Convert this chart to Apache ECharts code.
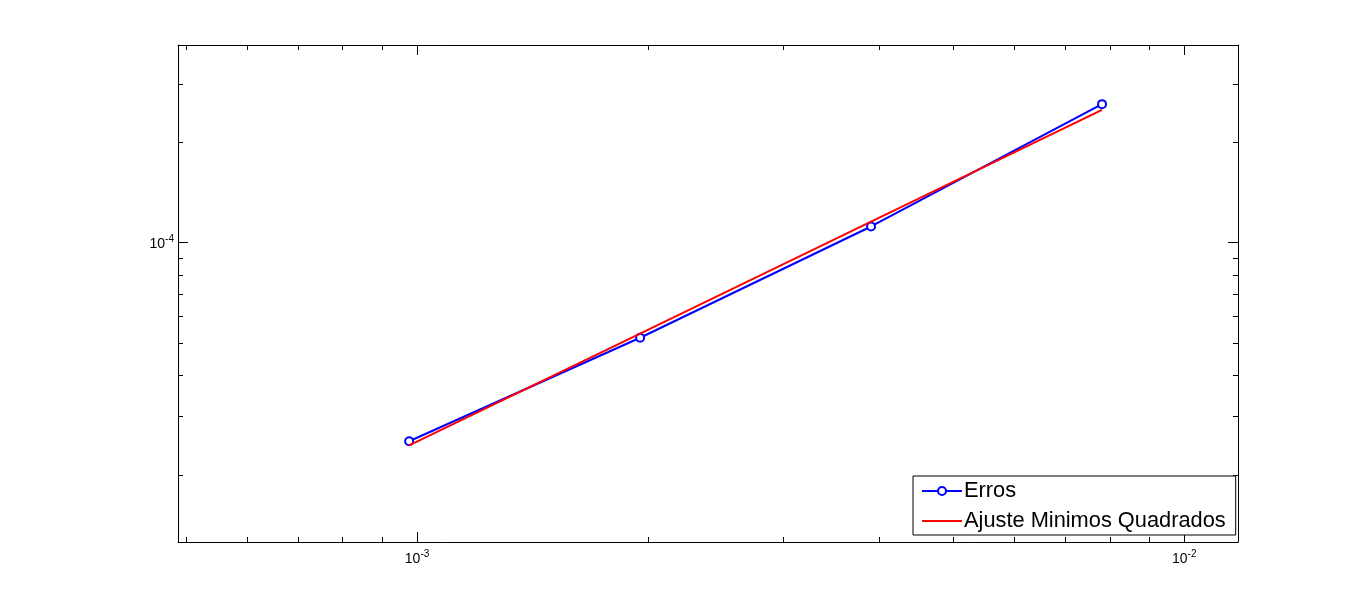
<!DOCTYPE html>
<html>
<head>
<meta charset="utf-8">
<script src="https://cdn.jsdelivr.net/npm/echarts@6/dist/echarts.min.js"></script>
<style>
    html, body { margin: 0; padding: 0; background: #fff; }
    #chart { width: 1367px; height: 609px; }
</style>
</head>
<body>
<div id="chart"></div>
<script>
// valores
let passos = [0.0009765625, 0.001953125, 0.00390625, 0.0078125]; // h
let erros = [2.53e-5, 5.18e-5, 1.119e-4, 2.61e-4]; // erro medido
let ajuste = [2.46e-5, 5.33e-5, 1.157e-4, 2.51e-4]; // ajuste minimos quadrados

let xMajor = [1e-3, 1e-2];
let xMinor = [5e-4, 6e-4, 7e-4, 8e-4, 9e-4, 2e-3, 3e-3, 4e-3, 5e-3, 6e-3, 7e-3, 8e-3, 9e-3];
let yMajor = [1e-4];
let yMinor = [2e-5, 3e-5, 4e-5, 5e-5, 6e-5, 7e-5, 8e-5, 9e-5, 2e-4, 3e-4];

let xMin = 0.000488, xMax = 0.01175;
let yMin = 1.26e-5, yMax = 3.93e-4;

let fonte = 'Liberation Sans, Arial, Helvetica, sans-serif';

function pot(v) {
    let e = Math.round(Math.log10(v));
    return '{b|10}{s|' + e + '}';
}

let rotulo = {
    b: { fontSize: 14, fontFamily: fonte, color: '#000', lineHeight: 17, verticalAlign: 'bottom' },
    s: { fontSize: 10, fontFamily: fonte, color: '#000', lineHeight: 10, verticalAlign: 'top' }
};

function eixo(tipo, pos, ticks, len, linha, labels) {
    let e = {
        type: 'log',
        logBase: 10,
        position: pos,
        min: tipo === 'x' ? xMin : yMin,
        max: tipo === 'x' ? xMax : yMax,
        axisLine: { show: linha, onZero: false, lineStyle: { color: '#000', width: 1 } },
        axisTick: { show: true, inside: true, length: len, customValues: ticks, lineStyle: { color: '#000', width: 1 } },
        splitLine: { show: false },
        minorTick: { show: false },
        axisLabel: { show: false }
    };
    if (labels) {
        e.axisLabel = {
            show: true,
            customValues: labels,
            formatter: pot,
            rich: rotulo,
            margin: tipo === 'x' ? 7 : 4
        };
    }
    return e;
}

let chart = echarts.init(document.getElementById('chart'));

let option = {
    animation: false,
    backgroundColor: '#fff',
    grid: { left: 178, top: 45, width: 1060, height: 497, containLabel: false },
    xAxis: [
        eixo('x', 'bottom', xMajor, 10, true, xMajor),
        eixo('x', 'bottom', xMinor, 5, false, null),
        eixo('x', 'top', xMajor, 10, true, null),
        eixo('x', 'top', xMinor, 5, false, null)
    ],
    yAxis: [
        eixo('y', 'left', yMajor, 10, true, yMajor),
        eixo('y', 'left', yMinor, 5, false, null),
        eixo('y', 'right', yMajor, 10, true, null),
        eixo('y', 'right', yMinor, 5, false, null)
    ],
    legend: {
        orient: 'vertical',
        left: 913,
        top: 476,
        backgroundColor: '#fff',
        borderColor: '#000',
        borderWidth: 1,
        borderRadius: 0,
        padding: [4, 10, 3, 8],
        itemWidth: 40,
        itemHeight: 10,
        itemGap: 8,
        textStyle: { fontSize: 21.8, fontFamily: fonte, color: '#000', lineHeight: 22, padding: [0, 0, 0, -3] },
        data: [
            { name: 'Erros' },
            { name: 'Ajuste Minimos Quadrados', itemStyle: { opacity: 0 } }
        ]
    },
    series: [
        {
            name: 'Erros',
            type: 'line',
            xAxisIndex: 0,
            yAxisIndex: 0,
            data: passos.map((x, i) => [x, erros[i]]),
            symbol: 'emptyCircle',
            symbolSize: 8,
            lineStyle: { color: '#0000ff', width: 2 },
            itemStyle: { color: '#0000ff', borderColor: '#0000ff', borderWidth: 2 },
            z: 2
        },
        {
            name: 'Ajuste Minimos Quadrados',
            type: 'line',
            xAxisIndex: 0,
            yAxisIndex: 0,
            data: passos.map((x, i) => [x, ajuste[i]]),
            symbol: 'none',
            lineStyle: { color: '#ff0000', width: 2 },
            itemStyle: { color: '#ff0000' },
            z: 3
        }
    ]
};

chart.setOption(option);
</script>
</body>
</html>
